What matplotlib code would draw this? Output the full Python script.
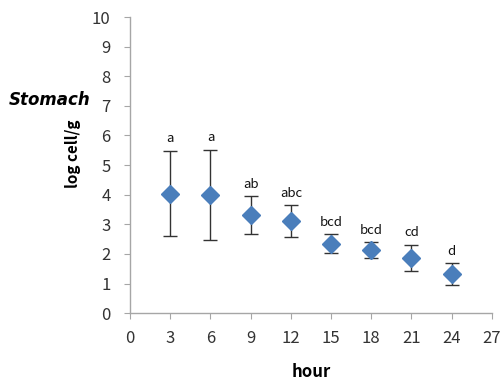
import matplotlib
matplotlib.use("Agg")
from matplotlib import pyplot as plt

plt.rcParams['font.family'] = ['Noto Sans CJK KR', 'DejaVu Sans']

hours = [3, 6, 9, 12, 15, 18, 21, 24]
log_cell = [4.04, 4.00, 3.30, 3.10, 2.35, 2.13, 1.87, 1.32]
sd = [1.45, 1.52, 0.64, 0.54, 0.31, 0.26, 0.44, 0.37]
groups = ['a', 'a', 'ab', 'abc', 'bcd', 'bcd', 'cd', 'd']

fig = plt.figure(figsize=(5.04, 3.88), dpi=100)
ax = fig.add_axes([0.258, 0.193, 0.718, 0.763])

ax.errorbar(hours, log_cell, yerr=sd, fmt='D', color='#4a7ebb', markersize=9,
            ecolor='#333333', elinewidth=1, capsize=5, capthick=1)

# significance letters just above each upper cap
for h, m, s, g in zip(hours, log_cell, sd, groups):
    ax.annotate(g, (h, m + s), xytext=(0, 4), textcoords='offset points',
                ha='center', va='bottom', fontsize=9.5, color='#111111')

ax.set_xlim(0, 27)
ax.set_ylim(0, 10)
ax.set_xticks(range(0, 28, 3))
ax.set_yticks(range(0, 11))

for side in ['top', 'right']:
    ax.spines[side].set_visible(False)
for side in ['left', 'bottom']:
    ax.spines[side].set_color('#a6a6a6')
    ax.spines[side].set_linewidth(1)
ax.tick_params(axis='both', colors='#a6a6a6', labelcolor='#333333',
               labelsize=12, length=4, direction='out')
ax.tick_params(axis='x', pad=8)
ax.tick_params(axis='y', pad=10)

ax.set_xlabel('hour', fontsize=12, fontweight='bold', labelpad=12)
ax.set_ylabel('log cell/g', fontsize=11, fontweight='bold', labelpad=12)
ax.yaxis.set_label_coords(-0.135, 0.54)
fig.text(0.018, 0.742, 'Stomach', fontsize=12, fontweight='bold',
         fontstyle='italic', family='DejaVu Sans', va='center')

fig.savefig('out.png', dpi=100)
